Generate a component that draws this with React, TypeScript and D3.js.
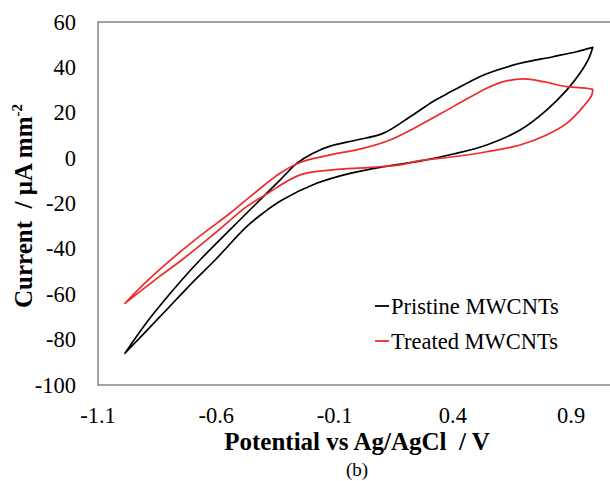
import React from 'react';
import * as d3 from 'd3';

// potential (V) / current (uA mm-2), forward branch then reverse branch
const pristineForward: [number, number][] = [
  [-0.986, -86.0], [-0.88, -70.5], [-0.746, -53.7], [-0.669, -44.9], [-0.472, -24.3],
  [-0.331, -9.7], [-0.26, -2.3], [-0.191, 2.2], [-0.119, 5.3], [-0.007, 8.0],
  [0.105, 10.9], [0.219, 18.2], [0.316, 25.0], [0.374, 28.3], [0.472, 33.7],
  [0.543, 37.2], [0.684, 41.8], [0.823, 44.7], [0.923, 46.9], [0.991, 48.8],
];
const pristineReverse: [number, number][] = [
  [0.991, 48.8], [0.975, 44.1], [0.937, 37.4], [0.881, 30.0], [0.796, 21.2],
  [0.684, 12.4], [0.543, 5.8], [0.402, 1.8], [0.261, -1.3], [0.105, -3.8],
  [-0.035, -6.7], [-0.176, -11.1], [-0.322, -18.5], [-0.403, -24.3], [-0.472, -30.2],
  [-0.605, -44.9], [-0.69, -53.7], [-0.838, -69.9], [-0.986, -86.0],
];
const treatedForward: [number, number][] = [
  [-0.986, -64.0], [-0.901, -55.0], [-0.81, -46.4], [-0.669, -34.3], [-0.542, -24.3],
  [-0.458, -17.1], [-0.331, -6.7], [-0.246, -1.9], [-0.119, 1.4], [0.02, 4.3],
  [0.134, 8.0], [0.261, 14.6], [0.402, 22.7], [0.543, 30.8], [0.613, 33.7],
  [0.698, 34.9], [0.782, 33.7], [0.881, 31.5], [0.966, 30.8], [0.991, 30.3],
];
const treatedReverse: [number, number][] = [
  [0.991, 30.3], [0.987, 27.8], [0.951, 22.7], [0.881, 15.3], [0.796, 10.2],
  [0.684, 5.8], [0.543, 2.8], [0.402, 0.6], [0.261, -1.1], [0.176, -3.0],
  [0.036, -4.2], [-0.107, -5.2], [-0.246, -7.4], [-0.387, -15.8], [-0.472, -21.4],
  [-0.605, -33.0], [-0.746, -44.9], [-0.838, -52.0], [-0.986, -64.0],
];

const xTicks = [-1.1, -0.6, -0.1, 0.4, 0.9];
const xTickLabels = ['-1.1', '-0.6', '-0.1', '0.4', '0.9'];
const yTicks = [60, 40, 20, 0, -20, -40, -60, -80, -100];
const yTickLabels = ['60', '40', '20', '0', '-20', '-40', '-60', '-80', '-100'];

const seriesNames = ['Pristine MWCNTs', 'Treated MWCNTs'];
const seriesColors = ['#000000', '#ee2a2a'];

const W = 610, H = 481;
const serif: React.CSSProperties = {
  fontFamily: "'Liberation Serif', 'Times New Roman', Times, serif",
  whiteSpace: 'pre',
};

export default function App() {
  const x = d3.scaleLinear().domain([-1.1, 1.1]).range([98, 618.5]);
  const y = d3.scaleLinear().domain([-100, 60]).range([385, 22]);

  const line = d3.line<[number, number]>()
    .x(d => x(d[0]))
    .y(d => y(d[1]))
    .curve(d3.curveCatmullRom.alpha(0.5));

  const series = [
    [pristineForward, pristineReverse],
    [treatedForward, treatedReverse],
  ];

  return (
    <svg width={W} height={H} style={{ position: 'absolute', left: 0, top: 0, background: '#fff' }}>
      <rect x={x(-1.1)} y={y(60)} width={x(1.1) - x(-1.1)} height={y(-100) - y(60)}
        fill="none" stroke="#878787" strokeWidth={1.5} />

      {series.map((branches, i) => (
        <path key={i} d={(line(branches[0]) || '') + (line(branches[1]) || '')}
          fill="none" stroke={seriesColors[i]} strokeWidth={1.7}
          strokeLinejoin="round" strokeLinecap="round" />
      ))}

      {yTicks.map((t, i) => (
        <text key={t} x={76} y={y(t) + 7.5} textAnchor="end"
          style={serif} fontSize={22.5} fill="#000">{yTickLabels[i]}</text>
      ))}
      {xTicks.map((t, i) => (
        <text key={t} x={x(t)} y={423} textAnchor="middle"
          style={serif} fontSize={22.5} fill="#000">{xTickLabels[i]}</text>
      ))}

      <text x={357} y={450} textAnchor="middle" style={serif} fontSize={25}
        fontWeight="bold" fill="#000">{'Potential vs Ag/AgCl  / V'}</text>
      <text x={357} y={476} textAnchor="middle" style={serif} fontSize={19}
        fill="#000">(b)</text>

      <text transform="translate(32,206) rotate(-90)" textAnchor="middle"
        style={serif} fontSize={25} fontWeight="bold" fill="#000">
        {'Current  / μA mm'}<tspan dy={-10} fontSize={15}>-2</tspan>
      </text>

      {seriesNames.map((name, i) => (
        <g key={name} transform={`translate(375,${306 + i * 35})`}>
          <line x1={0} x2={14} y1={0} y2={0} stroke={seriesColors[i]} strokeWidth={1.8} />
          <text x={16} y={7.5} style={serif} fontSize={22.5} fill="#000">{name}</text>
        </g>
      ))}
    </svg>
  );
}
